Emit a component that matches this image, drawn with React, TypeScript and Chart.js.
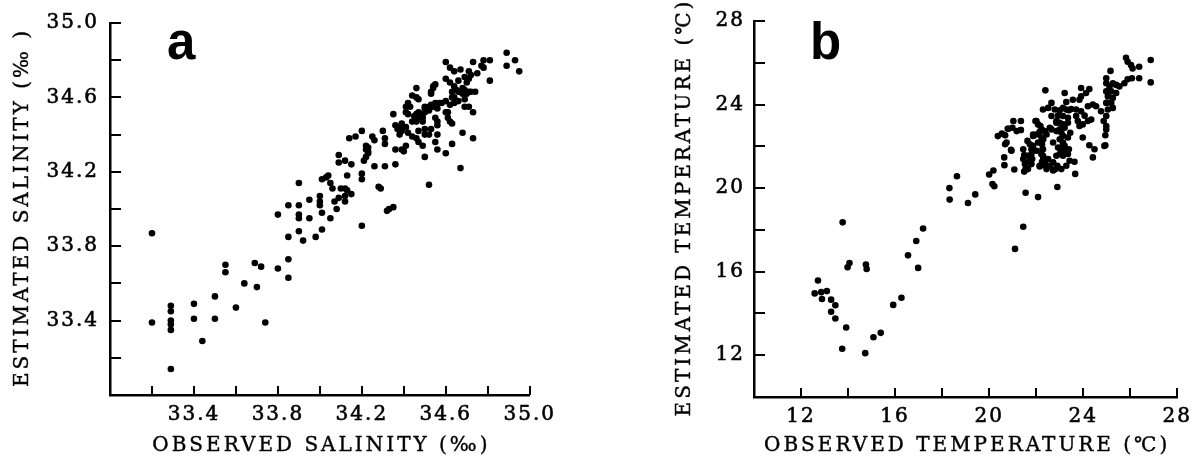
import React, { useEffect, useRef } from 'react';
import { Chart, registerables } from 'chart.js';

Chart.register(...registerables);

// ---------- Panel a: salinity ----------
const salObserved = [
  33.20, 33.20, 33.29, 33.29, 33.29, 33.29, 33.29, 33.29, 33.40, 33.40,
  33.44, 33.50, 33.50, 33.60, 33.55, 33.55, 33.64, 33.70, 33.69, 33.72,
  33.74, 33.80, 33.80, 33.85, 33.85, 33.85, 33.85, 33.90, 33.90, 33.90,
  33.90, 33.92, 33.95, 33.95, 33.98, 34.00, 34.00, 34.00, 34.01, 34.01,
  34.05, 34.06, 34.08, 34.07, 34.09, 34.12, 34.12, 34.10, 34.12, 34.15,
  34.20, 34.28, 34.29, 34.32, 34.33, 34.35, 34.52, 33.90, 34.01, 34.03,
  34.04, 34.05, 34.13, 34.09, 34.09, 34.12, 34.15, 34.22, 34.23, 34.23,
  34.22, 34.22, 34.21, 34.20, 34.20, 34.26, 34.31, 34.36, 34.14, 34.17,
  34.20, 34.25, 34.26, 34.30, 34.31, 34.31, 34.35, 34.36, 34.39, 34.41,
  34.36, 34.38, 34.39, 34.41, 34.38, 34.37, 34.39, 34.44, 34.46, 34.49,
  34.42, 34.43, 34.41, 34.44, 34.46, 34.46, 34.42, 34.41, 34.45, 34.47,
  34.48, 34.46, 34.42, 34.44, 34.46, 34.47, 34.49, 34.50, 34.40, 34.23,
  34.13, 34.50, 34.53, 34.52, 34.50, 34.47, 34.50, 34.52, 34.54, 34.56,
  34.50, 34.52, 34.50, 34.49, 34.47, 34.49, 34.53, 34.54, 34.55, 34.54,
  34.53, 34.47, 34.56, 34.56, 34.55, 34.56, 34.55, 34.56, 34.60, 34.63,
  34.60, 34.61, 34.62, 34.61, 34.63, 34.58, 34.60, 34.63, 34.65, 34.64,
  34.62, 34.57, 34.55, 34.53, 34.60, 34.62, 34.64, 34.67, 34.60, 34.62,
  34.64, 34.66, 34.65, 34.67, 34.68, 34.70, 34.71, 34.69, 34.72, 34.63,
  34.66, 34.68, 34.70, 34.71, 34.72, 34.73, 34.75, 34.77, 34.78, 34.81,
  34.78, 34.69, 34.71, 34.73, 34.69, 34.68, 34.73, 34.67, 34.74, 34.81,
  34.89, 34.89, 34.93, 34.95, 34.64, 34.66, 34.69, 34.71,
];
const salEstimated = [
  33.87, 33.39, 33.48, 33.45, 33.40, 33.38, 33.35, 33.14, 33.49, 33.41,
  33.29, 33.53, 33.41, 33.47, 33.70, 33.66, 33.60, 33.58, 33.71, 33.69,
  33.39, 33.97, 33.68, 33.73, 33.63, 34.02, 33.85, 34.02, 33.97, 33.95,
  33.88, 33.83, 34.05, 33.95, 33.85, 34.07, 34.04, 34.02, 33.98, 33.89,
  33.95, 34.11, 34.00, 34.04, 34.06, 34.04, 34.07, 34.11, 34.11, 34.08,
  33.91, 34.12, 34.11, 33.99, 34.00, 34.01, 34.13, 34.14, 34.16, 34.17,
  34.18, 34.14, 34.18, 34.29, 34.25, 34.26, 34.24, 34.28, 34.30, 34.33,
  34.32, 34.34, 34.26, 34.19, 34.16, 34.23, 34.23, 34.24, 34.38, 34.39,
  34.42, 34.39, 34.37, 34.42, 34.38, 34.35, 34.51, 34.32, 34.32, 34.34,
  34.45, 34.44, 34.46, 34.44, 34.40, 34.43, 34.42, 34.47, 34.47, 34.47,
  34.57, 34.55, 34.55, 34.61, 34.60, 34.65, 34.51, 34.52, 34.50, 34.52,
  34.50, 34.51, 34.41, 34.39, 34.38, 34.36, 34.34, 34.28, 34.31, 34.31,
  34.10, 34.40, 34.43, 34.40, 34.43, 34.42, 34.54, 34.55, 34.55, 34.54,
  34.55, 34.53, 34.52, 34.51, 34.49, 34.49, 34.63, 34.65, 34.67, 34.66,
  34.62, 34.59, 34.47, 34.45, 34.49, 34.40, 34.36, 34.32, 34.30, 34.35,
  34.52, 34.49, 34.47, 34.52, 34.46, 34.57, 34.58, 34.60, 34.58, 34.57,
  34.56, 34.57, 34.57, 34.56, 34.79, 34.76, 34.74, 34.75, 34.70, 34.68,
  34.66, 34.69, 34.64, 34.63, 34.65, 34.68, 34.63, 34.64, 34.63, 34.63,
  34.63, 34.62, 34.62, 34.74, 34.72, 34.79, 34.73, 34.77, 34.76, 34.80,
  34.80, 34.59, 34.55, 34.52, 34.55, 34.41, 34.38, 34.22, 34.63, 34.69,
  34.84, 34.77, 34.80, 34.74, 34.60, 34.58, 34.71, 34.70,
];
const salinityTicks = [33.0, 33.2, 33.4, 33.6, 33.8, 34.0, 34.2, 34.4, 34.6, 34.8, 35.0];
const salinityTickLabels = ['33.4', '33.8', '34.2', '34.6', '35.0'];

// ---------- Panel b: temperature ----------
const tempObserved = [
  13.77, 13.98, 14.06, 14.76, 14.79, 12.72, 12.58, 12.86, 13.10, 12.89,
  13.28, 13.46, 13.28, 13.46, 13.92, 13.75, 14.73, 15.08, 15.39, 15.92,
  16.27, 16.55, 16.90, 16.98, 17.19, 18.31, 18.32, 19.10, 19.41, 20.14,
  20.22, 21.10, 21.45, 21.55, 22.08, 22.90, 18.63, 20.00, 20.18, 20.65,
  20.64, 21.07, 20.93, 20.68, 20.37, 20.54, 20.68, 20.79, 20.99, 21.03,
  21.35, 21.35, 21.17, 21.45, 21.49, 21.45, 21.52, 21.55, 21.49, 21.63,
  21.73, 21.80, 21.80, 21.83, 21.87, 22.01, 22.15, 21.97, 22.08, 22.23,
  22.37, 22.58, 22.44, 22.30, 22.25, 22.27, 22.22, 22.30, 22.25, 22.51,
  22.58, 22.15, 22.34, 22.72, 22.82, 22.72, 22.39, 22.65, 22.29, 22.51,
  22.79, 23.00, 23.14, 23.28, 23.49, 22.65, 22.93, 23.14, 23.35, 22.86,
  23.00, 23.14, 22.65, 22.86, 23.07, 23.14, 23.00, 23.14, 23.21, 23.07,
  23.00, 23.14, 23.35, 23.28, 22.90, 23.42, 23.63, 23.66, 23.21, 23.56,
  23.84, 23.91, 24.12, 24.26, 23.91, 23.70, 23.91, 24.20, 24.41, 24.55,
  23.70, 24.06, 23.77, 24.20, 24.34, 23.84, 23.98, 23.98, 24.26, 24.48,
  24.41, 24.90, 25.16, 24.98, 24.98, 25.12, 25.26, 25.40, 25.54, 24.98,
  25.19, 25.40, 25.05, 25.26, 24.98, 25.19, 25.05, 25.26, 24.98, 24.87,
  24.98, 24.98, 24.94, 24.94, 24.76, 25.75, 25.89, 26.07, 26.38, 26.38,
  25.82, 25.89, 26.03, 26.10, 26.87, 26.87, 23.28, 20.82, 21.34, 20.74,
  20.95, 22.01, 22.18, 21.87, 22.23, 22.08, 21.87, 22.01, 22.29, 21.65,
  21.75, 21.65, 21.80, 21.65, 22.29, 22.37, 22.15, 22.44, 22.86, 23.21,
  23.39, 23.07, 23.28, 22.72, 22.93, 23.14, 23.35, 23.45, 22.86, 23.00,
  23.21, 23.35, 23.39,
];
const tempEstimated = [
  18.36, 16.21, 16.41, 16.34, 16.13, 15.58, 14.96, 15.02, 15.07, 14.69,
  14.66, 14.39, 14.08, 13.76, 13.33, 12.31, 12.10, 12.86, 13.07, 14.41,
  14.75, 16.78, 17.47, 16.18, 18.07, 20.00, 19.45, 19.29, 19.70, 20.20,
  20.09, 17.09, 18.15, 19.78, 19.57, 20.05, 20.57, 20.65, 20.84, 21.10,
  21.47, 20.89, 21.83, 22.10, 22.49, 22.61, 22.53, 22.84, 22.89, 23.21,
  23.21, 22.78, 22.73, 21.86, 21.58, 21.39, 21.15, 20.91, 20.79, 22.26,
  22.10, 21.86, 21.63, 21.39, 22.50, 22.57, 22.69, 23.21, 23.05, 22.81,
  22.73, 22.89, 22.57, 22.34, 22.10, 21.86, 21.63, 21.47, 21.26, 21.39,
  21.07, 21.04, 21.10, 21.23, 20.91, 20.84, 24.68, 24.08, 23.76, 23.84,
  23.76, 23.73, 23.84, 23.76, 23.79, 23.45, 23.47, 23.45, 23.37, 23.21,
  23.13, 23.05, 22.81, 22.73, 22.65, 22.50, 22.34, 22.18, 22.02, 21.86,
  21.63, 21.55, 21.63, 21.86, 21.07, 21.31, 21.26, 20.68, 24.55, 24.23,
  24.23, 24.39, 24.55, 24.74, 24.79, 23.76, 23.68, 23.92, 24.00, 23.92,
  23.45, 23.47, 23.21, 23.21, 23.28, 22.97, 23.05, 22.42, 22.05, 21.86,
  21.47, 22.02, 25.61, 25.26, 25.02, 24.87, 25.02, 24.94, 24.87, 24.63,
  24.63, 24.55, 24.39, 24.31, 24.08, 24.08, 23.76, 23.84, 23.45, 23.21,
  22.97, 22.81, 22.53, 22.05, 23.68, 25.02, 25.21, 25.26, 25.26, 25.81,
  26.24, 26.05, 25.89, 25.73, 26.13, 25.06, 24.12, 22.84, 22.78, 22.18,
  21.79, 23.21, 22.97, 22.57, 22.42, 22.18, 22.02, 21.79, 21.86, 21.55,
  21.39, 21.23, 21.15, 20.91, 21.55, 21.23, 21.07, 20.91, 21.55, 21.79,
  21.86, 20.91, 21.07, 22.18, 21.94, 22.10, 22.42, 22.65, 23.13, 22.81,
  22.89, 23.13, 23.73,
];
const temperatureTicks = [10, 12, 14, 16, 18, 20, 22, 24, 26, 28];
const temperatureTickLabels = ['12', '16', '20', '24', '28'];

const SERIF = '"DejaVu Serif", serif';
const TICK_SIZE = 20;
const TICK_SPACING = 2;
const TITLE_SIZE = 20;
const TITLE_SPACING = 3;

type PanelSpec = {
  left: number;
  width: number;
  xs: number[];
  ys: number[];
  ticks: number[];
  tickLabels: string[];
  decimals: number;
  min: number;
  max: number;
  padding: { top: number; right: number; left: number; bottom: number };
  yWidth: number;
  xHeight: number;
  yTickPad: number;
  xTickPad: number;
  xTitle: string;
  yTitle: string;
  yTitleX: number;
  xTitleY: number;
  letter: string;
  letterX: number;
  letterY: number;
};

const panelA: PanelSpec = {
  left: 0, width: 560,
  xs: salObserved, ys: salEstimated,
  ticks: salinityTicks, tickLabels: salinityTickLabels, decimals: 1,
  min: 33, max: 35,
  padding: { top: 20, right: 24, left: 0, bottom: 0 },
  yWidth: 110, xHeight: 68, yTickPad: 11, xTickPad: 8,
  xTitle: 'OBSERVED SALINITY (‰)',
  yTitle: 'ESTIMATED SALINITY (‰ )',
  yTitleX: 23, xTitleY: 446,
  letter: 'a', letterX: 167, letterY: 59,
};

const panelB: PanelSpec = {
  left: 560, width: 638,
  xs: tempObserved, ys: tempEstimated,
  ticks: temperatureTicks, tickLabels: temperatureTickLabels, decimals: 0,
  min: 10, max: 28,
  padding: { top: 17, right: 18, left: 0, bottom: 0 },
  yWidth: 194, xHeight: 66, yTickPad: 9, xTickPad: 8,
  xTitle: 'OBSERVED TEMPERATURE (℃)',
  yTitle: 'ESTIMATED TEMPERATURE (℃)',
  yTitleX: 125, xTitleY: 446,
  letter: 'b', letterX: 250, letterY: 59,
};

const spacingPlugin = {
  id: 'spacing',
  beforeDraw(chart: any) {
    (chart.ctx as any).letterSpacing = `${TICK_SPACING}px`;
  },
};

const decorPlugin = {
  id: 'decor',
  afterDraw(chart: any, _args: any, opts: any) {
    const { ctx, chartArea } = chart;
    const xs = chart.scales.x;
    const ys = chart.scales.y;
    ctx.save();
    // inward tick marks
    ctx.strokeStyle = '#000';
    ctx.lineWidth = 2;
    for (const t of xs.ticks) {
      if (t.value <= xs.min + 1e-9) continue;
      const px = Math.round(xs.getPixelForValue(t.value));
      ctx.beginPath();
      ctx.moveTo(px, chartArea.bottom);
      ctx.lineTo(px, chartArea.bottom - 9);
      ctx.stroke();
    }
    for (const t of ys.ticks) {
      if (t.value <= ys.min + 1e-9) continue;
      const py = Math.round(ys.getPixelForValue(t.value));
      ctx.beginPath();
      ctx.moveTo(chartArea.left, py);
      ctx.lineTo(chartArea.left + 11, py);
      ctx.stroke();
    }
    // axis titles
    const ls = TITLE_SPACING;
    ctx.fillStyle = '#000';
    ctx.strokeStyle = '#000';
    ctx.lineWidth = 0.4;
    ctx.font = `${TITLE_SIZE}px ${SERIF}`;
    (ctx as any).letterSpacing = `${ls}px`;
    ctx.textAlign = 'center';
    ctx.textBaseline = 'middle';
    const cx = (chartArea.left + chartArea.right) / 2 + ls / 2;
    ctx.strokeText(opts.xTitle, cx, opts.xTitleY);
    ctx.fillText(opts.xTitle, cx, opts.xTitleY);
    ctx.save();
    ctx.translate(opts.yTitleX, (chartArea.top + chartArea.bottom) / 2);
    ctx.rotate(-Math.PI / 2);
    ctx.strokeText(opts.yTitle, ls / 2, 0);
    ctx.fillText(opts.yTitle, ls / 2, 0);
    ctx.restore();
    // panel letter
    (ctx as any).letterSpacing = '0px';
    ctx.font = `bold 51px "Liberation Sans", Arial, sans-serif`;
    ctx.textAlign = 'left';
    ctx.textBaseline = 'alphabetic';
    ctx.fillStyle = '#000';
    ctx.fillText(opts.letter, opts.letterX, opts.letterY);
    ctx.restore();
  },
};

function buildChart(canvas: HTMLCanvasElement, p: PanelSpec) {
  const points = p.xs.map((x, i) => ({ x, y: p.ys[i] }));
  const fmt = (v: any) => {
    const s = Number(v).toFixed(p.decimals);
    return p.tickLabels.includes(s) ? s : '';
  };
  const axisCommon = {
    type: 'linear' as const,
    min: p.min,
    max: p.max,
    grid: { display: false, drawTicks: false },
    border: { display: true, color: '#000', width: 2.5 },
    afterBuildTicks: (scale: any) => {
      scale.ticks = p.ticks.map((v) => ({ value: v }));
    },
  };
  const tickFont = { family: SERIF, size: TICK_SIZE };
  return new Chart(canvas, {
    type: 'scatter',
    data: {
      datasets: [
        {
          data: points,
          backgroundColor: '#000',
          borderColor: '#000',
          borderWidth: 0,
          pointRadius: 3.3,
          pointHoverRadius: 3.3,
        },
      ],
    },
    options: {
      responsive: false,
      animation: false,
      events: [],
      layout: { padding: p.padding, autoPadding: false },
      plugins: {
        legend: { display: false },
        tooltip: { enabled: false },
        title: { display: false },
        decor: {
          xTitle: p.xTitle,
          yTitle: p.yTitle,
          yTitleX: p.yTitleX,
          xTitleY: p.xTitleY,
          letter: p.letter,
          letterX: p.letterX,
          letterY: p.letterY,
        },
      } as any,
      scales: {
        x: {
          ...axisCommon,
          position: 'bottom',
          ticks: {
            autoSkip: false,
            maxRotation: 0,
            minRotation: 0,
            padding: p.xTickPad,
            color: '#000',
            textStrokeColor: '#000',
            textStrokeWidth: 0.6,
            font: tickFont,
            callback: fmt,
          },
          afterFit: (scale: any) => {
            scale.height = p.xHeight;
          },
        },
        y: {
          ...axisCommon,
          position: 'left',
          ticks: {
            autoSkip: false,
            padding: p.yTickPad,
            color: '#000',
            textStrokeColor: '#000',
            textStrokeWidth: 0.6,
            font: tickFont,
            callback: fmt,
          },
          afterFit: (scale: any) => {
            scale.width = p.yWidth;
          },
        },
      },
    } as any,
    plugins: [spacingPlugin, decorPlugin],
  });
}

function Panel({ spec }: { spec: PanelSpec }) {
  const ref = useRef<HTMLCanvasElement | null>(null);
  useEffect(() => {
    if (!ref.current) return;
    const chart = buildChart(ref.current, spec);
    return () => chart.destroy();
  }, [spec]);
  return (
    <canvas
      ref={ref}
      width={spec.width}
      height={463}
      style={{ position: 'absolute', left: spec.left, top: 0, width: spec.width, height: 463 }}
    />
  );
}

export default function App() {
  return (
    <div style={{ position: 'absolute', left: 0, top: 0, width: 1198, height: 463, background: '#fff' }}>
      <Panel spec={panelA} />
      <Panel spec={panelB} />
    </div>
  );
}
